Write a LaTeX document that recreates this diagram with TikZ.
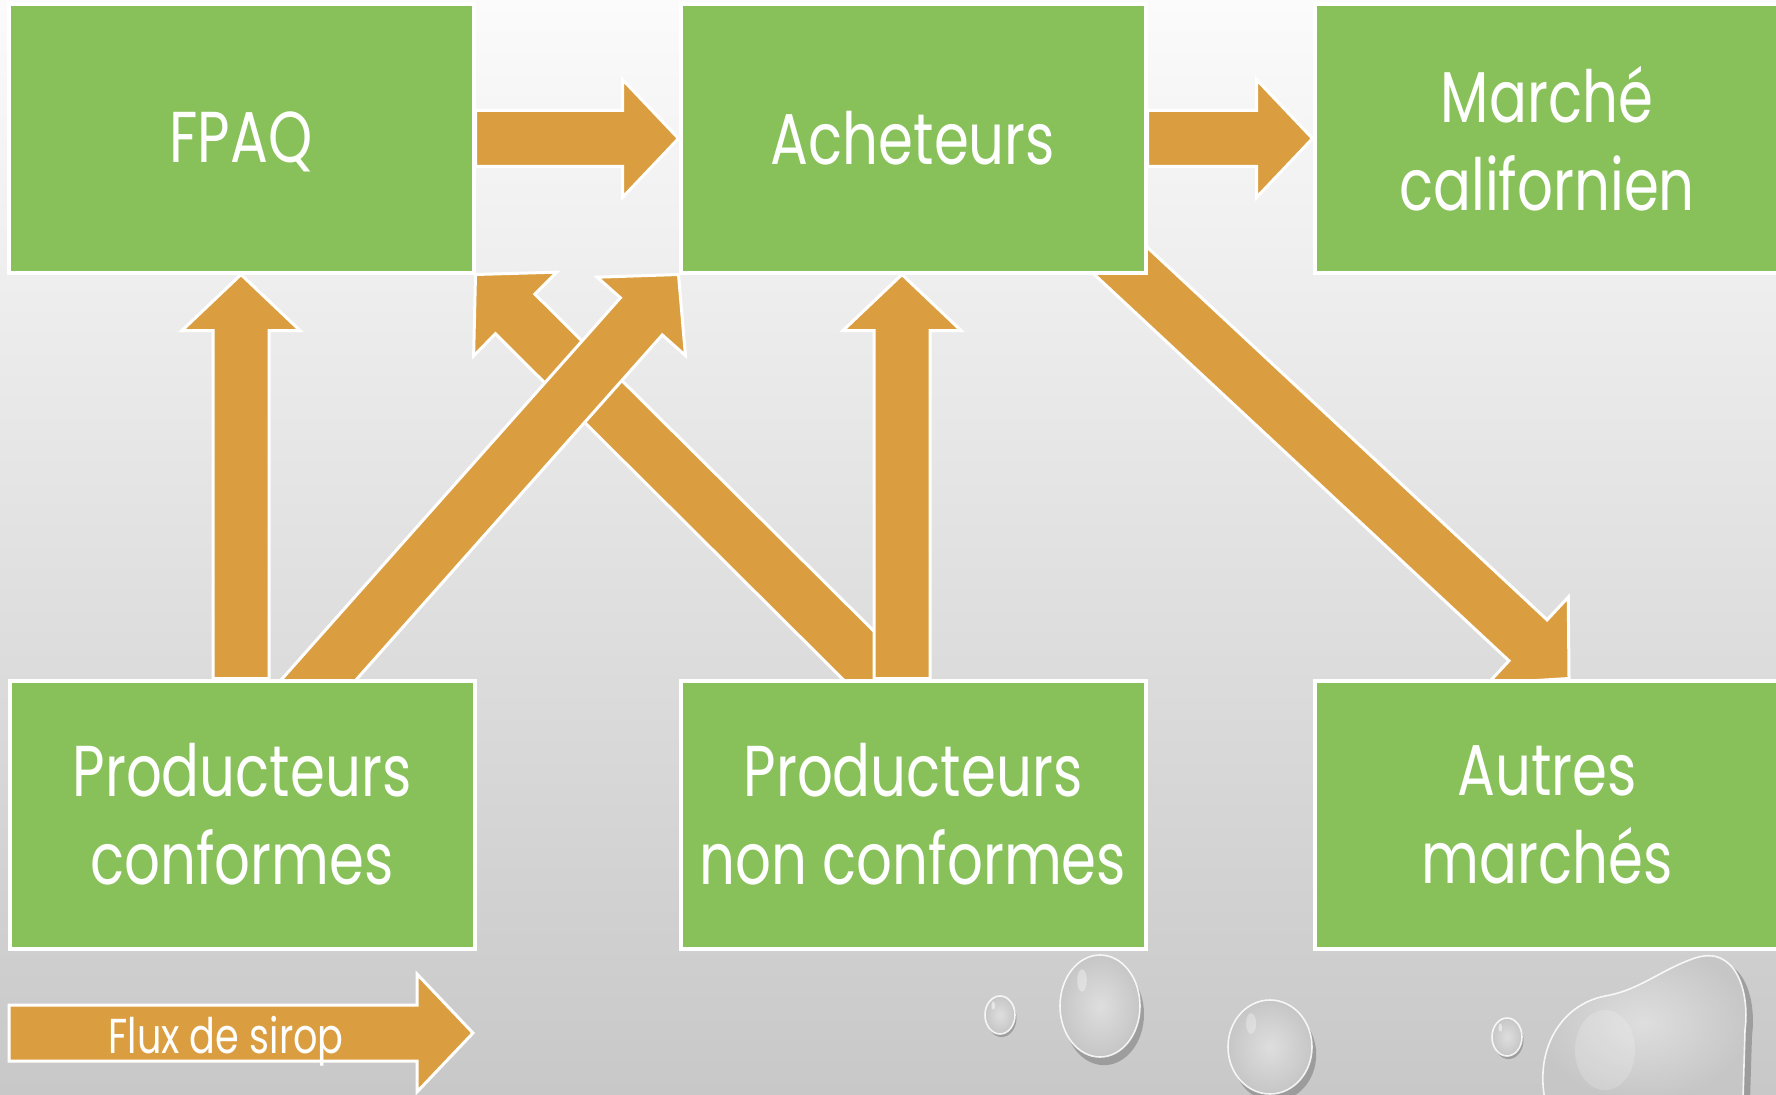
\documentclass[tikz,border=0pt]{standalone}
\usepackage{fontspec}
\newfontfamily\gfont{Poppins}[FakeStretch=0.78]
\usetikzlibrary{calc}
\definecolor{boxgreen}{RGB}{136,193,89}
\definecolor{flowor}{RGB}{218,158,64}
\definecolor{bgtop}{RGB}{251,251,251}
\definecolor{bgmid}{RGB}{236,236,236}
\definecolor{bgbot}{RGB}{200,200,200}
\definecolor{dropin}{RGB}{222,222,222}
\definecolor{dropout}{RGB}{198,198,198}
\pgfdeclarelayer{bg}
\pgfdeclarelayer{arr}
\pgfsetlayers{bg,arr,main}
\tikzset{
  box/.style={draw=white, line width=4pt, fill=boxgreen, minimum width=465pt,
    minimum height=268pt, inner sep=0pt, text=white, align=center,
    font=\gfont\fontsize{72}{88}\selectfont},
  flow/.style={draw=white, line width=3pt, fill=flowor, line join=miter},
  legtext/.style={text=white, inner sep=0pt, font=\gfont\fontsize{49}{56}\selectfont},
  dropshadow/.style={fill=black, opacity=0.22},
  dropbody/.style={inner color=dropin, outer color=dropout},
  droprim/.style={draw=white, line width=1.6pt, opacity=0.85},
}
\newcommand\blockarrow[2]{%
  \path ($(#2)!56pt!(#1)$) coordinate (hb);
  \draw[flow] ($(#1)!28pt!90:(#2)$) -- ($(hb)!28pt!90:(#2)$) -- ($(hb)!59pt!90:(#2)$)
    -- (#2) -- ($(hb)!59pt!-90:(#2)$) -- ($(hb)!28pt!-90:(#2)$)
    -- ($(#1)!28pt!-90:(#2)$) -- cycle;}
\newcommand\waterdrop[5]{% x y rx ry highlight
  \fill[dropshadow] (#1+#3*0.1,#2+#4*0.16) ellipse ({#3} and {#4});
  \shade[dropbody] (#1,#2) ellipse ({#3} and {#4});
  \draw[droprim] (#1,#2) ellipse ({#3} and {#4});
  \fill[white, opacity=#5] (#1-#3*0.45,#2-#4*0.5) ellipse ({#3*0.12} and {#4*0.22});}
\begin{document}
\begin{tikzpicture}[x=1pt,y=-1pt]
\useasboundingbox (0,0) rectangle (1776,1094);
\begin{pgfonlayer}{bg}
  \shade[top color=bgtop, middle color=bgmid, bottom color=bgbot] (0,0) rectangle (1776,1094);
  \waterdrop{1000}{1015}{15}{19}{0.5}
  \waterdrop{1100}{1006}{40}{51}{0.35}
  \waterdrop{1270}{1047}{42}{47}{0.3}
  \waterdrop{1507}{1037}{15}{19}{0.5}
  % large bean-shaped drop
  \fill[dropshadow] (1552,1100) .. controls (1542,1056) and (1567,1011) .. (1612,1002)
     .. controls (1647,996) and (1667,976) .. (1702,964)
     .. controls (1742,951) and (1757,996) .. (1752,1036) -- (1750,1100) -- cycle;
  \shade[dropbody] (1545,1100) .. controls (1535,1050) and (1560,1005) .. (1605,996)
     .. controls (1640,990) and (1660,970) .. (1695,958)
     .. controls (1735,945) and (1750,990) .. (1745,1030) -- (1743,1100) -- cycle;
  \draw[droprim] (1545,1100) .. controls (1535,1050) and (1560,1005) .. (1605,996)
     .. controls (1640,990) and (1660,970) .. (1695,958)
     .. controls (1735,945) and (1750,990) .. (1745,1030) -- (1743,1100);
  \fill[white, opacity=0.18] (1605,1050) ellipse (30 and 40);
\end{pgfonlayer}
% boxes
\node[box, text height=58pt] (fpaq) at (241,138.5) {FPAQ};
\node[box] (ach) at (913,138.5) {Acheteurs};
\node[box] (cal) at (1547,138.5) {Marché\\californien};
\node[box] (pc) at (242,814.5) {Producteurs\\conformes};
\node[box] (pnc) at (913,814.5) {Producteurs\\non conformes};
\node[box] (am) at (1547,814.5) {Autres\\marchés};
% connector end points
\coordinate (a3tail) at (fpaq.south |- pc.north);
\coordinate (a4tip) at ([xshift=-11pt]ach.south);
\coordinate (a4tail) at (a4tip |- pnc.north);
\coordinate (a5tail) at ([xshift=45pt,yshift=-37pt]pc.north);
\coordinate (a6tail) at ([xshift=-1pt,yshift=-30pt]pnc.north);
\coordinate (a7tail) at ([xshift=-55pt,yshift=40pt]ach.south east);
\coordinate (a7tip) at ([xshift=22pt]am.north);
\coordinate (legtail) at (9,1033);
\coordinate (legtip) at (473,1033);
\begin{pgfonlayer}{arr}
  \blockarrow{fpaq.east}{ach.west}
  \blockarrow{ach.east}{cal.west}
  \blockarrow{a3tail}{fpaq.south}
  \blockarrow{a6tail}{fpaq.south east}
  \blockarrow{a5tail}{ach.south west}
  \blockarrow{a4tail}{a4tip}
  \blockarrow{a7tail}{a7tip}
\end{pgfonlayer}
% legend
\blockarrow{legtail}{legtip}
\node[legtext] (leg) at (226,1041) {Flux de sirop};
\end{tikzpicture}
\end{document}
